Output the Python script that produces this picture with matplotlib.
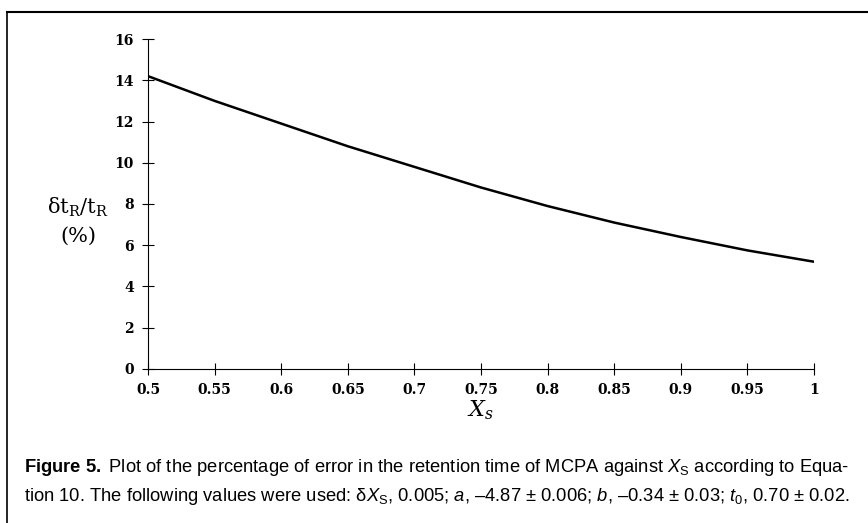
import matplotlib
matplotlib.use('Agg')
import matplotlib.pyplot as plt
from matplotlib.lines import Line2D

# values
xs = [0.5, 0.55, 0.6, 0.65, 0.7, 0.75, 0.8, 0.85, 0.9, 0.95, 1.0]
err_pct = [14.2, 13.0, 11.9, 10.8, 9.8, 8.8, 7.9, 7.1, 6.4, 5.75, 5.2]
xticks = [0.5, 0.55, 0.6, 0.65, 0.7, 0.75, 0.8, 0.85, 0.9, 0.95, 1.0]
xtick_labels = ['0.5', '0.55', '0.6', '0.65', '0.7', '0.75', '0.8', '0.85', '0.9', '0.95', '1']
yticks = [0, 2, 4, 6, 8, 10, 12, 14, 16]

plt.rcParams['mathtext.fontset'] = 'custom'
plt.rcParams['mathtext.rm'] = 'Liberation Sans'
plt.rcParams['mathtext.it'] = 'Liberation Sans:italic'
plt.rcParams['mathtext.bf'] = 'Liberation Sans:bold'

fig = plt.figure(figsize=(8.68, 5.23), dpi=100)
ax = fig.add_axes([0.1705, 0.2945, 0.9378 - 0.1705, 0.9254 - 0.2945])
ax.plot(xs, err_pct, color='black', lw=1.8)
ax.set_xlim(0.5, 1.0)
ax.set_ylim(0, 16)
for s in ['top', 'right']:
    ax.spines[s].set_visible(False)
for s in ['left', 'bottom']:
    ax.spines[s].set_linewidth(0.8)
ax.set_xticks(xticks)
ax.set_xticklabels(xtick_labels)
ax.set_yticks(yticks)
ax.tick_params(direction='inout', length=8, width=0.8, pad=6)
for lab in ax.get_xticklabels() + ax.get_yticklabels():
    lab.set_fontfamily('DejaVu Serif')
    lab.set_fontweight('bold')
    lab.set_fontsize(10)

fig.text(0.553, 0.238, r'$\mathregular{X_s}$', ha='center', va='top', fontsize=16,
         family='DejaVu Serif', style='italic')
fig.text(0.090, 0.604, r'δt$\mathregular{_R}$/t$\mathregular{_R}$', ha='center', va='center',
         fontsize=15, family='DejaVu Serif')
fig.text(0.090, 0.549, '(%)', ha='center', va='center', fontsize=15, family='DejaVu Serif')

cap = 'Liberation Sans'
fig.text(0.028, 0.107,
         r'$\mathbf{Figure\ 5.}$ Plot of the percentage of error in the retention time of MCPA against $X_\mathrm{S}$ according to Equa-',
         fontsize=13.2, family=cap, va='center')
fig.text(0.028, 0.05,
         r'tion 10. The following values were used: δ$X_\mathrm{S}$, 0.005; $a$, –4.87 ± 0.006; $b$, –0.34 ± 0.03; $t_0$, 0.70 ± 0.02.',
         fontsize=13.2, family=cap, va='center')

# frame lines of the printed figure box
fig.add_artist(Line2D([0.008, 1.0], [0.977, 0.977], color='black', lw=1.5, transform=fig.transFigure))
fig.add_artist(Line2D([0.008, 0.008], [0.0, 0.977], color='black', lw=1.2, transform=fig.transFigure))

fig.savefig('out.png', dpi=100)
